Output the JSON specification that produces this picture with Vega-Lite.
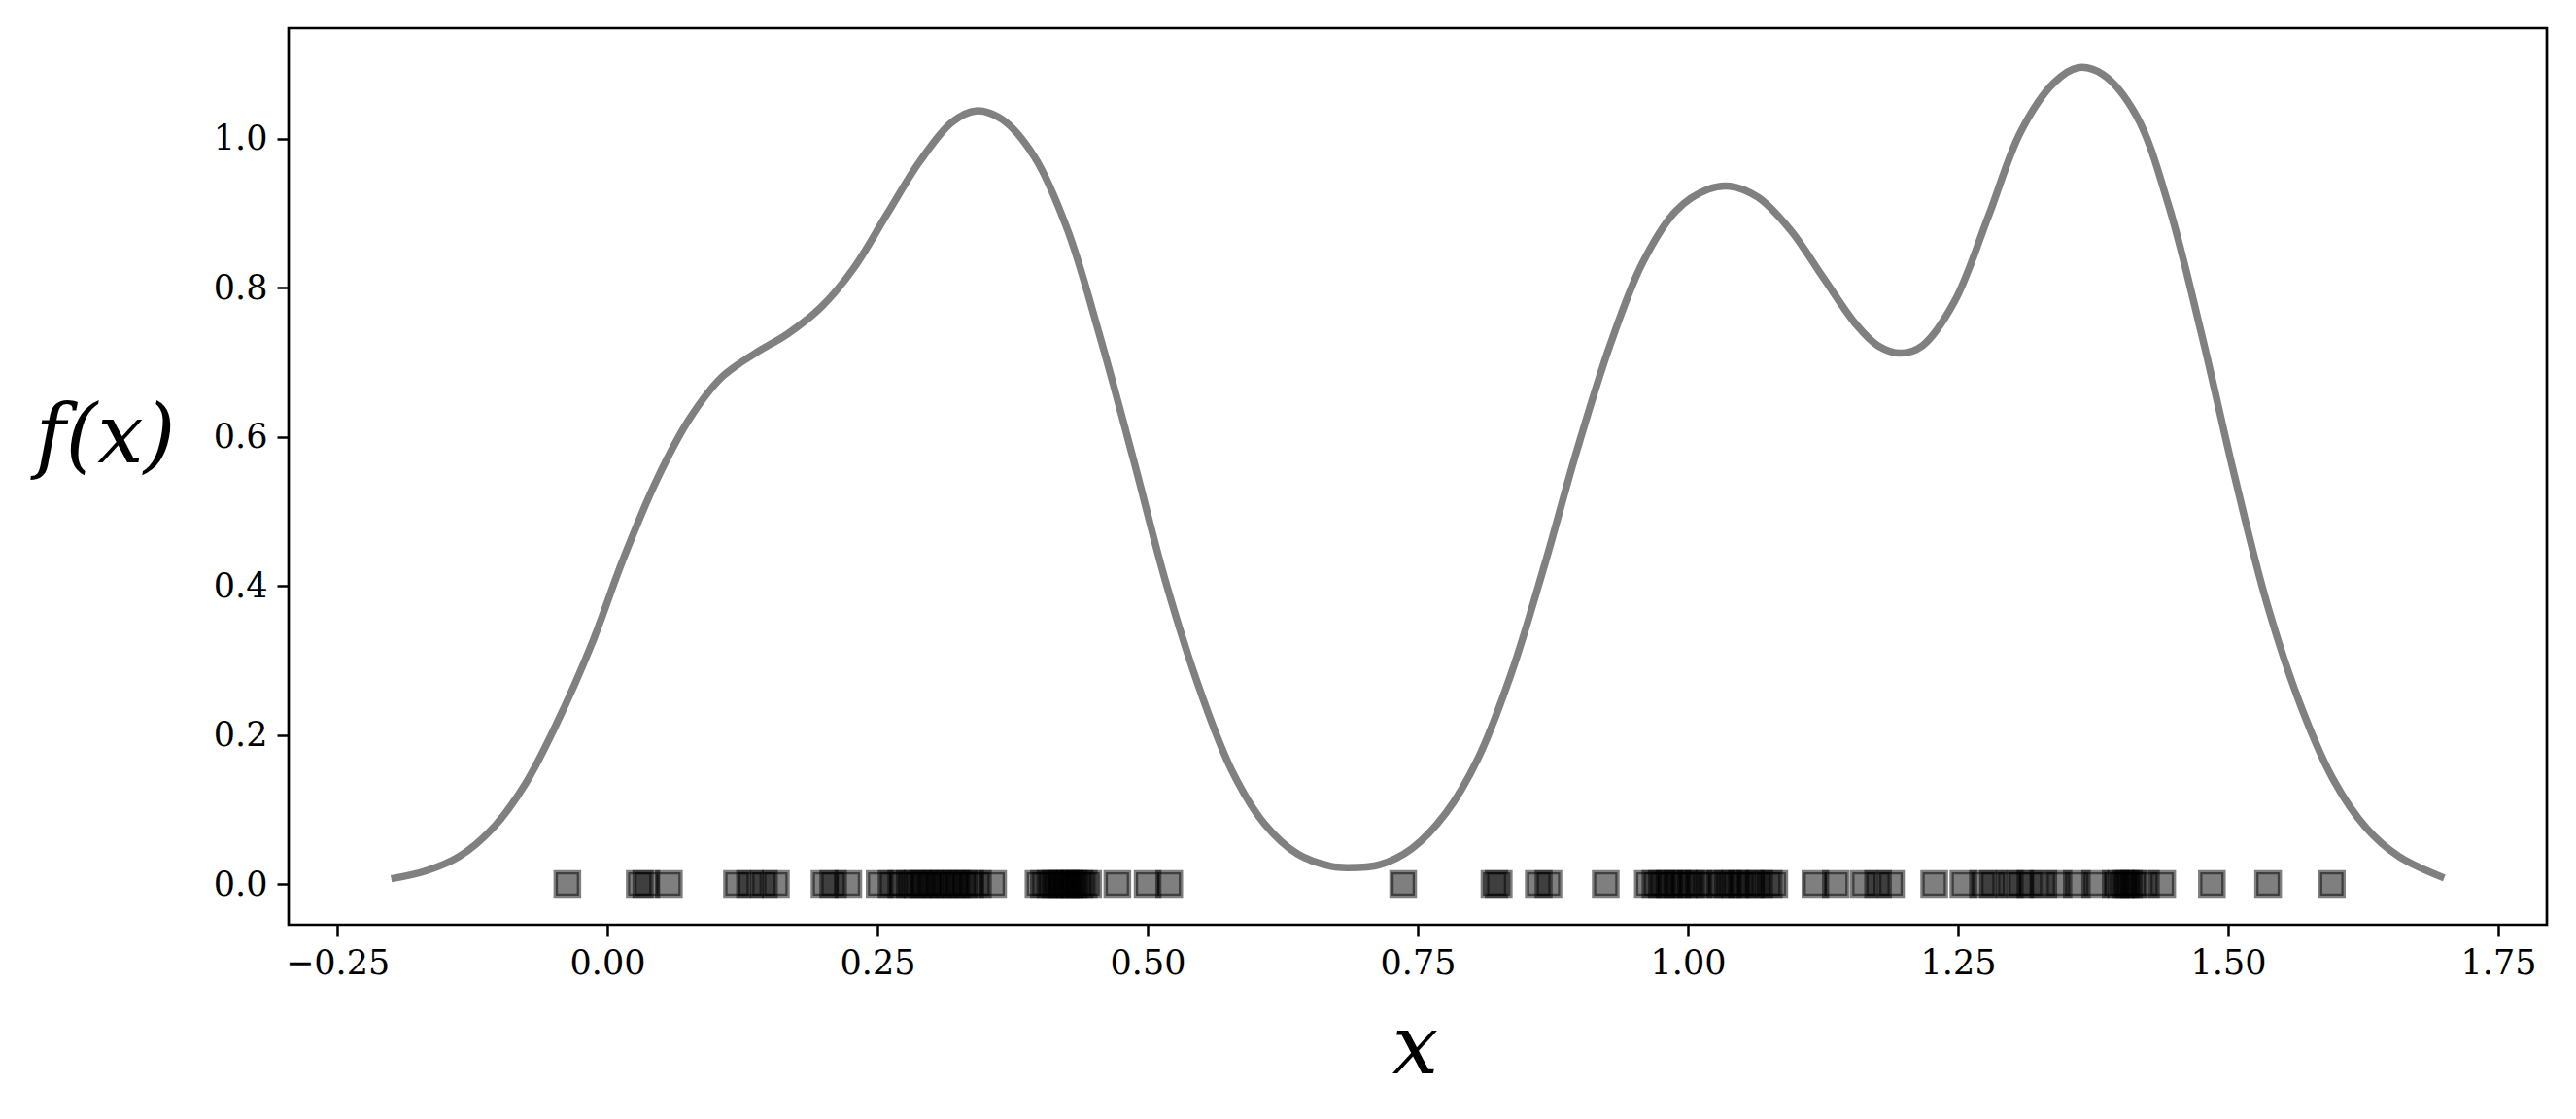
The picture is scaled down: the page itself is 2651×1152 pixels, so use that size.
{
  "$schema": "https://vega.github.io/schema/vega-lite/v6.json",
  "autosize": {"type": "none"},
  "padding": {"left": 297, "top": 29, "right": 30, "bottom": 200},
  "width": 2324,
  "height": 923,
  "background": "white",
  "config": {
    "view": {"stroke": "black", "strokeWidth": 2.7},
    "axis": {
      "domain": false,
      "grid": false,
      "tickColor": "black",
      "tickWidth": 2.5,
      "tickSize": 12,
      "labelPadding": 10,
      "labelFont": "DejaVu Serif",
      "labelFontSize": 35,
      "labelColor": "black",
      "titleColor": "black"
    }
  },
  "datasets": {
    "samples": [
      {"x": -0.037}, {"x": 0.030}, {"x": 0.036}, {"x": 0.057},
      {"x": 0.120}, {"x": 0.132}, {"x": 0.145}, {"x": 0.156},
      {"x": 0.201}, {"x": 0.209}, {"x": 0.223},
      {"x": 0.252}, {"x": 0.263}, {"x": 0.272}, {"x": 0.280}, {"x": 0.287}, {"x": 0.293}, {"x": 0.298}, {"x": 0.305}, {"x": 0.311}, {"x": 0.318}, {"x": 0.323}, {"x": 0.330}, {"x": 0.336}, {"x": 0.343}, {"x": 0.357},
      {"x": 0.399}, {"x": 0.404}, {"x": 0.410}, {"x": 0.415}, {"x": 0.420}, {"x": 0.424}, {"x": 0.428}, {"x": 0.432}, {"x": 0.437}, {"x": 0.441}, {"x": 0.445},
      {"x": 0.472}, {"x": 0.500}, {"x": 0.520},
      {"x": 0.7365}, {"x": 0.821}, {"x": 0.825}, {"x": 0.862}, {"x": 0.871}, {"x": 0.924},
      {"x": 0.963}, {"x": 0.970}, {"x": 0.976}, {"x": 0.983}, {"x": 0.990}, {"x": 0.996}, {"x": 1.003}, {"x": 1.010}, {"x": 1.020}, {"x": 1.030}, {"x": 1.037}, {"x": 1.044}, {"x": 1.050}, {"x": 1.058}, {"x": 1.066}, {"x": 1.075}, {"x": 1.080},
      {"x": 1.118}, {"x": 1.137}, {"x": 1.163}, {"x": 1.176}, {"x": 1.188},
      {"x": 1.228},
      {"x": 1.255}, {"x": 1.273}, {"x": 1.2825}, {"x": 1.298}, {"x": 1.3077}, {"x": 1.317}, {"x": 1.329}, {"x": 1.343}, {"x": 1.360}, {"x": 1.377}, {"x": 1.396}, {"x": 1.401}, {"x": 1.405}, {"x": 1.408}, {"x": 1.413}, {"x": 1.424}, {"x": 1.439},
      {"x": 1.485}, {"x": 1.537}, {"x": 1.596}
    ],
    "density": [
      {"x": -0.2, "f": 0.007}, {"x": -0.167, "f": 0.018}, {"x": -0.137, "f": 0.037}, {"x": -0.106, "f": 0.075},
      {"x": -0.076, "f": 0.134}, {"x": -0.046, "f": 0.218}, {"x": -0.015, "f": 0.32}, {"x": 0.015, "f": 0.437},
      {"x": 0.046, "f": 0.543}, {"x": 0.076, "f": 0.624}, {"x": 0.106, "f": 0.68}, {"x": 0.137, "f": 0.712},
      {"x": 0.167, "f": 0.738}, {"x": 0.198, "f": 0.774}, {"x": 0.228, "f": 0.826}, {"x": 0.259, "f": 0.899},
      {"x": 0.289, "f": 0.969}, {"x": 0.319, "f": 1.022}, {"x": 0.341, "f": 1.037}, {"x": 0.365, "f": 1.026},
      {"x": 0.395, "f": 0.976}, {"x": 0.426, "f": 0.877}, {"x": 0.456, "f": 0.734}, {"x": 0.487, "f": 0.569},
      {"x": 0.517, "f": 0.404}, {"x": 0.548, "f": 0.262}, {"x": 0.578, "f": 0.152}, {"x": 0.608, "f": 0.081},
      {"x": 0.639, "f": 0.040}, {"x": 0.669, "f": 0.024}, {"x": 0.685, "f": 0.022}, {"x": 0.715, "f": 0.026},
      {"x": 0.745, "f": 0.048}, {"x": 0.776, "f": 0.095}, {"x": 0.806, "f": 0.169}, {"x": 0.837, "f": 0.284},
      {"x": 0.867, "f": 0.426}, {"x": 0.897, "f": 0.58}, {"x": 0.928, "f": 0.723}, {"x": 0.958, "f": 0.833},
      {"x": 0.989, "f": 0.903}, {"x": 1.019, "f": 0.932}, {"x": 1.039, "f": 0.936}, {"x": 1.065, "f": 0.921},
      {"x": 1.095, "f": 0.877}, {"x": 1.126, "f": 0.812}, {"x": 1.156, "f": 0.750}, {"x": 1.176, "f": 0.722},
      {"x": 1.197, "f": 0.712}, {"x": 1.217, "f": 0.722}, {"x": 1.247, "f": 0.782}, {"x": 1.278, "f": 0.895},
      {"x": 1.308, "f": 1.009}, {"x": 1.339, "f": 1.075}, {"x": 1.361, "f": 1.095}, {"x": 1.384, "f": 1.086},
      {"x": 1.415, "f": 1.031}, {"x": 1.445, "f": 0.91}, {"x": 1.476, "f": 0.734}, {"x": 1.506, "f": 0.547},
      {"x": 1.536, "f": 0.376}, {"x": 1.567, "f": 0.24}, {"x": 1.597, "f": 0.141}, {"x": 1.628, "f": 0.075},
      {"x": 1.658, "f": 0.037}, {"x": 1.7, "f": 0.008}
    ]
  },
  "layer": [
    {
      "data": {"name": "density"},
      "mark": {"type": "line", "color": "#808080", "strokeWidth": 7.5, "interpolate": "catmull-rom", "clip": true},
      "encoding": {
        "x": {
          "field": "x", "type": "quantitative",
          "scale": {"domain": [-0.295, 1.795], "nice": false, "zero": false},
          "axis": {
            "values": [-0.25, 0, 0.25, 0.5, 0.75, 1, 1.25, 1.5, 1.75],
            "format": ".2f",
            "title": "x",
            "titleFont": "DejaVu Serif",
            "titleFontStyle": "italic",
            "titleFontWeight": "normal",
            "titleFontSize": 84,
            "titleX": 1159,
            "titleY": 127,
            "titleAnchor": null,
            "titleAlign": "center",
            "titleBaseline": "middle"
          }
        },
        "y": {
          "field": "f", "type": "quantitative",
          "scale": {"domain": [-0.0547, 1.148], "nice": false, "zero": false},
          "axis": {
            "values": [0, 0.2, 0.4, 0.6, 0.8, 1.0],
            "format": ".1f",
            "title": "f(x)",
            "titleFont": "DejaVu Serif",
            "titleFontStyle": "italic",
            "titleFontWeight": "normal",
            "titleFontSize": 84,
            "titleAngle": 0,
            "titleX": -189,
            "titleY": 421,
            "titleAlign": "center",
            "titleBaseline": "middle"
          }
        }
      }
    },
    {
      "data": {"name": "samples"},
      "mark": {"type": "point", "shape": "square", "filled": true, "fill": "black", "fillOpacity": 0.5, "stroke": "black", "strokeOpacity": 0.5, "strokeWidth": 4.5, "size": 576},
      "encoding": {
        "x": {"field": "x", "type": "quantitative"},
        "y": {"datum": 0, "type": "quantitative"}
      }
    }
  ]
}
